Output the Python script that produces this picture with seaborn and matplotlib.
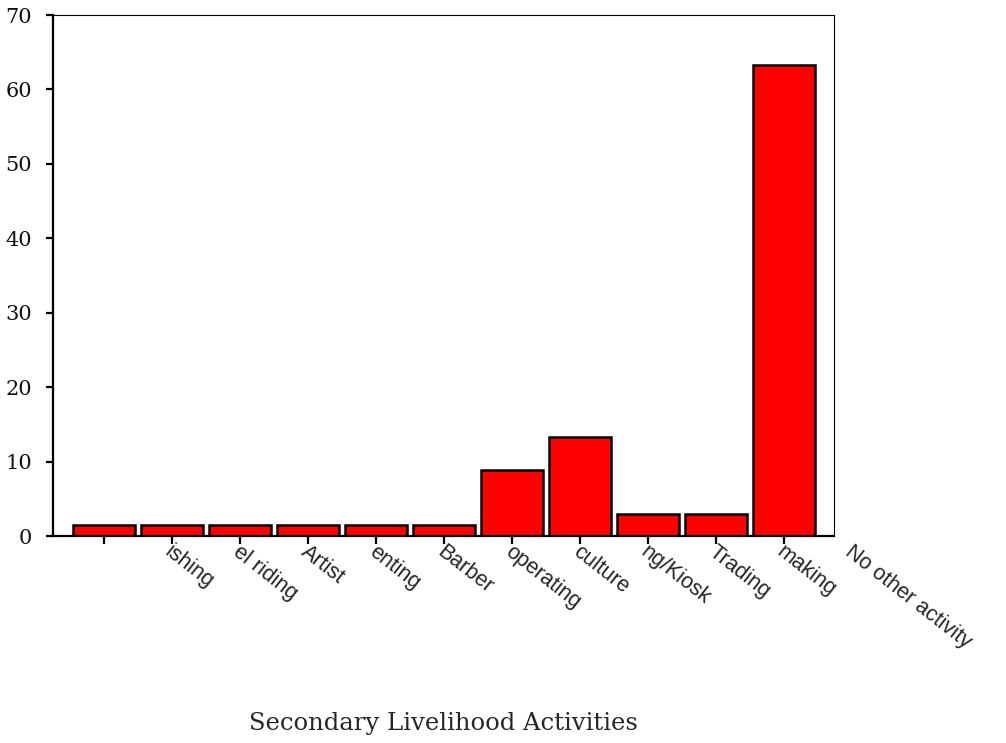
import matplotlib
matplotlib.use('Agg')
import numpy as np
import pandas as pd
import matplotlib.pyplot as plt
import matplotlib.transforms as mtransforms
import seaborn as sns

# values (percent of respondents)
activities = ['ishing', 'el riding', 'Artist', 'enting', 'Barber', 'operating',
              'culture', 'ng/Kiosk', 'Trading', 'making', 'No other activity']
percent = [1.47, 1.47, 1.47, 1.47, 1.47, 1.47, 8.82, 13.24, 2.94, 2.94, 63.24]
y_ticks = [0, 10, 20, 30, 40, 50, 60, 70]

sns.set_theme(style='ticks')
plt.rcParams['font.family'] = ['Liberation Sans', 'DejaVu Sans']

fig = plt.figure(figsize=(10.06, 7.43), dpi=100, facecolor='white')
ax = fig.add_axes([0.0527, 0.2786, 0.7763, 0.7012])

df = pd.DataFrame({'activity': activities, 'percent': percent})
sns.barplot(data=df, x='activity', y='percent', color='#ff0000', saturation=1,
            edgecolor='black', linewidth=1.8, width=0.91, ax=ax)

ax.set_xlim(-0.75, 10.74)
ax.set_ylim(0, 70)
ax.set_yticks(y_ticks)

for side in ['left', 'bottom']:
    ax.spines[side].set_linewidth(1.6)
for side in ['top', 'right']:
    ax.spines[side].set_linewidth(0.8)
for sp in ax.spines.values():
    sp.set_color('black')

ax.tick_params(axis='y', direction='out', length=5, width=1.6, color='black',
               labelsize=15, pad=10, labelcolor='#111111')
ax.tick_params(axis='x', direction='out', length=6, width=1.6, color='black', pad=0)
for lab in ax.get_yticklabels():
    lab.set_fontfamily('DejaVu Serif')

ax.set_xticks(range(len(activities)))
ax.set_xticklabels(activities, rotation=-38, ha='left', va='top',
                   rotation_mode='anchor', fontsize=15.5)
shift = mtransforms.ScaledTranslation(0.70, 0.03, fig.dpi_scale_trans)
for lab in ax.get_xticklabels():
    lab.set_transform(lab.get_transform() + shift)

ax.set_ylabel('')
ax.set_xlabel('Secondary Livelihood Activities', fontsize=17.5, fontfamily='DejaVu Serif')
ax.xaxis.set_label_coords(0.5, -0.338)

fig.savefig('out.png', dpi=100, facecolor='white')
